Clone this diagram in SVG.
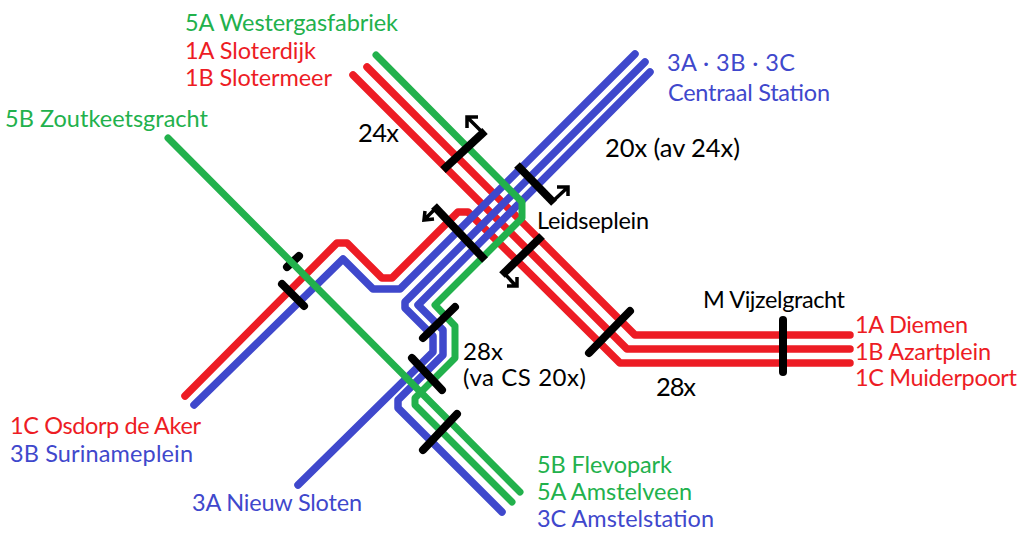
<svg xmlns="http://www.w3.org/2000/svg" width="1024" height="538" viewBox="0 0 1024 538">
<style>
text{font-family:"Lato","Open Sans","Liberation Sans",sans-serif;font-size:23.5px;fill:#000}
.big{font-size:25.5px}
.mid{font-size:24px}
.r{fill:#ed1c24}.b{fill:#3f48cc}.g{fill:#22b14c}
.l{fill:none;stroke-width:7.5;stroke-linecap:round;stroke-linejoin:round}
.lr{stroke:#ed1c24}.lb{stroke:#3f48cc}.lg{stroke:#22b14c;stroke-width:7}
.bar{fill:none;stroke:#000;stroke-width:8;stroke-linecap:round}
.sq{stroke-linecap:butt}
.ar{fill:none;stroke:#000;stroke-width:3.5}
</style>
<rect width="1024" height="538" fill="#fff"/>
<g id="connectors">
<g id="red-lines">
<path class="l lr" d="M353 75L627 349H850"/>
<path class="l lr" d="M367 67L635 335H850"/>
<path class="l lr" d="M185 396L337 243H347L382 278H392L458 212H468L620 363H850"/>
</g>
<g id="blue-lines">
<path class="l lb" d="M635 54L400 289H373L343 259L194 405"/>
<path class="l lb" d="M645 62L405 302V308L433 336V352L298 485"/>
<path class="l lb" d="M650 72L418 305L443 330V355L398 400V408L502 512"/>
</g>
<g id="short-bar-back">
<path class="bar" d="M287 267L299 256"/>
</g>
<g id="green-lines">
<path class="l lg" d="M168 138L520 492"/>
<path class="l lg" d="M376 55L503 183L522 202V218L435 305L455 326V358L415 398V405L512 502"/>
</g>
<g id="section-bars">
<path class="bar sq" d="M443 170L485 131"/>
<path class="bar sq" d="M517 165L554 203"/>
<path class="bar sq" d="M434 206L485 260"/>
<path class="bar sq" d="M542 236L502 275"/>
<path class="bar" d="M630 311L589 353"/>
<path class="bar" d="M783 320V372"/>
<path class="bar" d="M455 307L423 338"/>
<path class="bar" d="M412 358L442 390"/>
<path class="bar" d="M457 414L423 450"/>
<path class="bar" d="M282 284L304 306"/>
</g>
<g id="direction-arrows">
<path class="ar" d="M483 133L468 118M478 117H467V128"/>
<path class="ar" d="M552 202L567 188M557 187H568V196"/>
<path class="ar" d="M436 208L424 220M425 211L424 220L434 219"/>
<path class="ar" d="M504 273L516 286M507 286H517V277"/>
</g>
</g>
<g id="labels">
<text id="t-5a-w" class="g" x="185" y="31" textLength="213">5A Westergasfabriek</text>
<text id="t-1a-s" class="r" x="185" y="59" textLength="131">1A Sloterdijk</text>
<text id="t-1b-s" class="r" x="185" y="86" textLength="147">1B Slotermeer</text>
<text id="t-5b-z" class="g" x="5" y="127" textLength="203">5B Zoutkeetsgracht</text>
<text id="t-24x" class="big" x="358" y="142" textLength="41">24x</text>
<text id="t-3abc" class="b" x="667" y="71" textLength="128">3A · 3B · 3C</text>
<text id="t-cs" class="b" x="668" y="101" textLength="162">Centraal Station</text>
<text id="t-20x" class="big" x="605" y="157" textLength="135">20x (av 24x)</text>
<text id="t-leid" x="537" y="229" textLength="112">Leidseplein</text>
<text id="t-viz" x="703" y="308" textLength="142">M Vijzelgracht</text>
<text id="t-1a-d" class="r" x="855" y="333" textLength="113">1A Diemen</text>
<text id="t-1b-a" class="r" x="855" y="360" textLength="136">1B Azartplein</text>
<text id="t-1c-m" class="r" x="855" y="386" textLength="162">1C Muiderpoort</text>
<text id="t-28x-a" class="big" x="656" y="396" textLength="40">28x</text>
<text id="t-28x-b" class="mid" x="463" y="360" textLength="40">28x</text>
<text id="t-vacs" class="mid" x="463" y="386" textLength="123">(va CS 20x)</text>
<text id="t-1c-o" class="r" x="10" y="434" textLength="191">1C Osdorp de Aker</text>
<text id="t-3b-s" class="b" x="10" y="462" textLength="183">3B Surinameplein</text>
<text id="t-3a-n" class="b" x="192" y="511" textLength="170">3A Nieuw Sloten</text>
<text id="t-5b-f" class="g" x="537" y="473" textLength="135">5B Flevopark</text>
<text id="t-5a-a" class="g" x="537" y="500" textLength="155">5A Amstelveen</text>
<text id="t-3c-a" class="b" x="537" y="527" textLength="177">3C Amstelstation</text>
</g>
</svg>
